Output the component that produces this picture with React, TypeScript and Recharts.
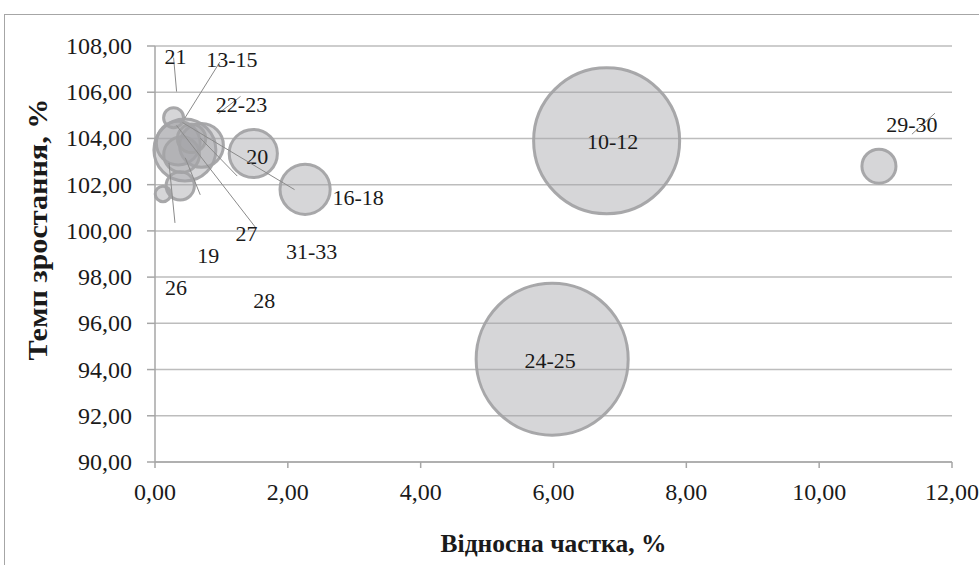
import React from 'react';
import {
  ScatterChart,
  Scatter,
  XAxis,
  YAxis,
  ZAxis,
  CartesianGrid,
  Label,
} from 'recharts';

// Групи (мітки бульбашок), відносна частка, темп зростання, розмір бульбашки
const groups = ['10-12', '24-25', '29-30', '16-18', '20', '13-15', '28', '27', '31-33', '22-23', '21', '19', '26'];
const share = [6.8, 5.98, 10.9, 2.26, 1.48, 0.45, 0.35, 0.7, 0.4, 0.55, 0.28, 0.38, 0.12];
const growth = [103.9, 94.45, 102.8, 101.8, 103.35, 103.5, 103.8, 103.7, 103.3, 104.0, 104.9, 101.95, 101.6];
const weight = [53.3, 57.8, 2.9, 6.3, 5.8, 9.6, 4.8, 4.8, 3.2, 2.0, 1.0, 2.0, 0.6];

const xTicks = [0, 2, 4, 6, 8, 10, 12];
const yTicks = [90, 92, 94, 96, 98, 100, 102, 104, 106, 108];

const data = groups.map((name, i) => ({ name, x: share[i], y: growth[i], z: weight[i] }));

// label placement relative to bubble centre (px), optional leader line
const labelLayout: Record<string, { dx: number; dy: number; leader?: number[] }> = {
  '10-12': { dx: 6, dy: 1 },
  '24-25': { dx: -2, dy: 1 },
  '29-30': { dx: 33, dy: -42, leader: [33, -32, 56, -53] },
  '16-18': { dx: 53, dy: 8 },
  '20': { dx: 4, dy: 3 },
  '13-15': { dx: 47, dy: -91, leader: [35, -88, 0, -32] },
  '28': { dx: 86, dy: 157, leader: [22, -5, 59, 33] },
  '27': { dx: 45, dy: 88, leader: [-25, -20, 54, 82] },
  '31-33': { dx: 130, dy: 97, leader: [1, -32, 113, 35] },
  '22-23': { dx: 50, dy: -34, leader: [27, -25, 49, -42] },
  '21': { dx: 2, dy: -61, leader: [0, -60, 3, -26] },
  '19': { dx: 28, dy: 69, leader: [5, -28, 20, 9] },
  '26': { dx: 13, dy: 93, leader: [6, -31, 12, 29] },
};

const FONT = 'Liberation Serif, Times New Roman, serif';
const fmt = (v: number) => v.toFixed(2).replace('.', ',');

function Bubble(props: any) {
  const { cx, cy, width, size } = props;
  const r = width ? width / 2 : Math.sqrt((size || 0) / Math.PI);
  return (
    <circle
      cx={cx}
      cy={cy}
      r={r}
      fill="#a4a5a9"
      fillOpacity={0.45}
      stroke="#a3a3a5"
      strokeOpacity={0.95}
      strokeWidth={3}
    />
  );
}

function BubbleLabel(props: any) {
  const { cx, cy, payload } = props;
  const lay = labelLayout[payload.name];
  if (!lay) return null;
  const l = lay.leader;
  return (
    <g>
      {l && (
        <line
          x1={cx + l[0]}
          y1={cy + l[1]}
          x2={cx + l[2]}
          y2={cy + l[3]}
          stroke="#8a8a8a"
          strokeWidth={1}
        />
      )}
      <text
        x={cx + lay.dx}
        y={cy + lay.dy}
        dy="0.35em"
        textAnchor="middle"
        fontSize={22}
        style={{ fontFamily: FONT }}
        fill="#1a1a1a"
      >
        {payload.name}
      </text>
    </g>
  );
}

function XTick(props: any) {
  const { x, y, payload } = props;
  return (
    <text x={x} y={y} dy={17} textAnchor="middle" fontSize={24} style={{ fontFamily: FONT }} fill="#1a1a1a">
      {fmt(payload.value)}
    </text>
  );
}

function YTick(props: any) {
  const { x, y, payload } = props;
  return (
    <text x={x} y={y} dy={8} textAnchor="end" fontSize={24} style={{ fontFamily: FONT }} fill="#1a1a1a">
      {fmt(payload.value)}
    </text>
  );
}

export default function App() {
  return (
    <div
      style={{
        position: 'absolute',
        left: 0,
        top: 0,
        width: 979,
        height: 565,
        overflow: 'hidden',
        background: '#fff',
        fontFamily: FONT,
      }}
    >
      <div
        style={{
          position: 'absolute',
          left: 4,
          top: 14,
          width: 1100,
          height: 700,
          border: '1px solid #a6a6a6',
        }}
      />
      <div style={{ position: 'absolute', left: 0, top: 0 }}>
        <ScatterChart width={979} height={565} margin={{ top: 46, right: 27, left: 0, bottom: 0 }}>
          <CartesianGrid vertical={false} stroke="#bdbdbd" strokeWidth={1.5} />
          <XAxis
            type="number"
            dataKey="x"
            domain={[0, 12]}
            ticks={xTicks}
            height={103}
            tickSize={6}
            tickMargin={15}
            stroke="#a6a6a6"
            strokeWidth={1.5}
            tick={<XTick />}
          >
            <Label
              content={({ viewBox }: any) => (
                <text
                  x={viewBox.x + viewBox.width / 2}
                  y={552}
                  textAnchor="middle"
                  fontSize={25.5}
                  fontWeight="bold"
                  style={{ fontFamily: FONT }}
                  fill="#1a1a1a"
                >
                  Відносна частка, %
                </text>
              )}
            />
          </XAxis>
          <YAxis
            type="number"
            dataKey="y"
            domain={[90, 108]}
            ticks={yTicks}
            width={155}
            tickSize={8}
            tickMargin={15}
            stroke="#a6a6a6"
            strokeWidth={1.5}
            tick={<YTick />}
          >
            <Label
              content={() => {
                const x = 47;
                const y = 229.5;
                return (
                  <text
                    x={x}
                    y={y}
                    transform={`rotate(-90, ${x}, ${y})`}
                    textAnchor="middle"
                    fontSize={28}
                    fontWeight="bold"
                    textLength={262}
                    lengthAdjust="spacingAndGlyphs"
                    style={{ fontFamily: FONT }}
                    fill="#1a1a1a"
                  >
                    Темп зростання, %
                  </text>
                );
              }}
            />
          </YAxis>
          <ZAxis type="number" dataKey="z" domain={[0, 60]} range={[0, 18850]} />
          <Scatter data={data} shape={<Bubble />} isAnimationActive={false} />
          <Scatter data={data} shape={<BubbleLabel />} isAnimationActive={false} legendType="none" />
        </ScatterChart>
      </div>
    </div>
  );
}
